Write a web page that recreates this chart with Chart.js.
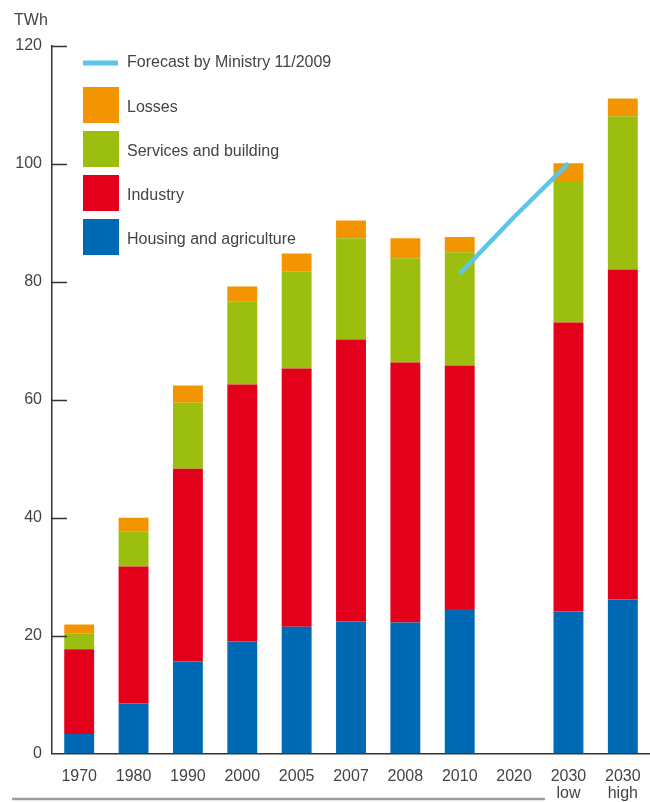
<!DOCTYPE html>
<html lang="en">
<head>
<meta charset="UTF-8">
<title>Electricity consumption</title>
<script src="https://cdn.jsdelivr.net/npm/chart.js"></script>
<style>
    body { margin: 0; background: #fff; }
    #wrap { width: 650px; height: 802px; position: relative; }
</style>
</head>
<body>
<div id="wrap"><canvas id="myBarChart" width="650" height="802"></canvas></div>
<script>
// TWh by sector
var years = ['1970', '1980', '1990', '2000', '2005', '2007', '2008', '2010', '2020', ['2030', 'low'], ['2030', 'high']];
var housing  = [3.3, 8.5, 15.6, 19.0, 21.5, 22.4, 22.2, 24.5, null, 24.1, 26.1];
var industry = [14.4, 23.2, 32.7, 43.6, 43.8, 47.8, 44.1, 41.3, null, 49.0, 56.0];
var services = [2.6, 6.0, 11.2, 14.1, 16.5, 17.2, 17.7, 19.2, null, 24.0, 26.0];
var losses   = [1.6, 2.3, 2.9, 2.5, 3.0, 3.0, 3.4, 2.6, null, 3.0, 3.0];
var forecast = [null, null, null, null, null, null, null, 81.4, 91.0, 100.1, null];
var yTicks = [0, 20, 40, 60, 80, 100, 120];

var textColor = '#444';
var axisColor = '#333';
var font = { family: 'Liberation Sans, Arial, sans-serif', size: 16 };

var legendItems = [
    { label: 'Forecast by Ministry 11/2009', color: '#5BC5EA', line: true },
    { label: 'Losses', color: '#F39500' },
    { label: 'Services and building', color: '#9BBE0F' },
    { label: 'Industry', color: '#E2001A' },
    { label: 'Housing and agriculture', color: '#0069B4' }
];

var extras = {
    id: 'extras',
    afterDraw: function (chart) {
        var c = chart.ctx;
        var area = chart.chartArea;
        var y = chart.scales.y;
        c.save();
        // inward tick marks
        c.strokeStyle = axisColor;
        c.lineWidth = 1.5;
        yTicks.forEach(function (v) {
            if (v === 0) return;
            var py = Math.round(y.getPixelForValue(v)) + 0.5;
            c.beginPath();
            c.moveTo(area.left, py);
            c.lineTo(area.left + 15, py);
            c.stroke();
        });
        // unit
        c.fillStyle = textColor;
        c.font = '16px ' + font.family;
        c.textBaseline = 'middle';
        c.textAlign = 'left';
        c.fillText('TWh', 14, 21);
        // legend
        var lx = 83, ly = 63;
        legendItems.forEach(function (it, i) {
            var cy = ly + i * 44;
            c.fillStyle = it.color;
            if (it.line) {
                c.fillRect(lx, cy - 2.5, 35, 5);
            } else {
                c.fillRect(lx, cy - 20, 36, 36);
                cy = cy + 1;
            }
            c.fillStyle = textColor;
            c.fillText(it.label, lx + 44, cy);
        });
        // bottom rule
        c.strokeStyle = '#a09c98';
        c.lineWidth = 2.5;
        c.beginPath();
        c.moveTo(12, 799);
        c.lineTo(545, 799);
        c.stroke();
        c.restore();
    }
};

var ctx = document.getElementById('myBarChart').getContext('2d');
var myBarChart = new Chart(ctx, {
    type: 'bar',
    data: {
        labels: years,
        datasets: [
            { type: 'line', label: 'Forecast by Ministry 11/2009', data: forecast, borderColor: '#5BC5EA', borderWidth: 4.5, pointRadius: 0, fill: false, order: 0 },
            { label: 'Housing and agriculture', data: housing, backgroundColor: '#0069B4', order: 1 },
            { label: 'Industry', data: industry, backgroundColor: '#E2001A', order: 1 },
            { label: 'Services and building', data: services, backgroundColor: '#9BBE0F', order: 1 },
            { label: 'Losses', data: losses, backgroundColor: '#F39500', order: 1 }
        ]
    },
    options: {
        responsive: false,
        animation: false,
        layout: { padding: { top: 46, right: -7, left: 0, bottom: 0 } },
        datasets: { bar: { categoryPercentage: 1, barPercentage: 0.55 } },
        plugins: { legend: { display: false }, tooltip: { enabled: false } },
        scales: {
            x: {
                stacked: true,
                grid: { display: false },
                border: { display: true, color: axisColor, width: 1.5 },
                ticks: { color: textColor, font: { family: font.family, size: 16, lineHeight: 1.05 }, padding: 7, maxRotation: 0, autoSkip: false },
                afterFit: function (s) { s.height = 48.5; }
            },
            y: {
                stacked: true,
                min: 0,
                max: 120,
                grid: { display: false, drawTicks: false },
                border: { display: true, color: axisColor, width: 1.5 },
                ticks: { stepSize: 20, color: textColor, font: font, padding: 10 },
                afterFit: function (s) { s.width = 52; }
            }
        }
    },
    plugins: [extras]
});
</script>
</body>
</html>
